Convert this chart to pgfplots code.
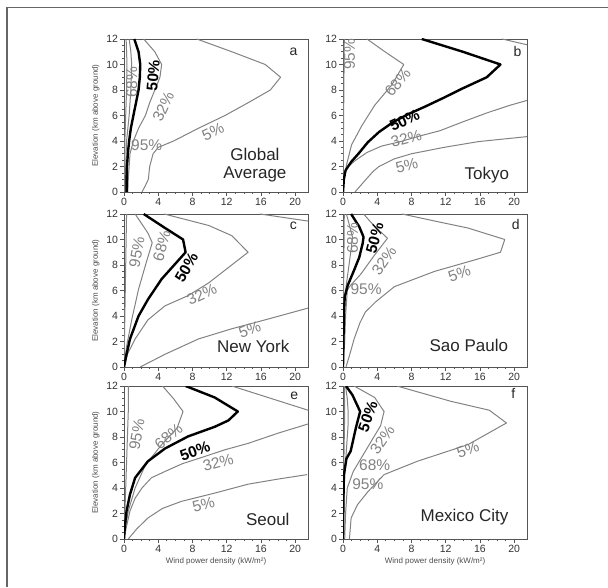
\documentclass[border=0pt]{standalone}
\usepackage{fontspec}
\setmainfont{Liberation Sans}
\usepackage{pgfplots}
\pgfplotsset{compat=1.18}

\definecolor{lgray}{RGB}{130,130,130}
\definecolor{agray}{RGB}{85,85,85}

\tikzset{
  plab/.style={text=lgray, font=\fontsize{15.5}{15.5}\selectfont, inner sep=0pt},
  mlab/.style={text=black, font=\fontsize{15.5}{15.5}\selectfont\bfseries, inner sep=0pt},
  city/.style={text=black!85, font=\fontsize{17}{18.5}\selectfont, align=center, inner sep=0pt},
  letter/.style={text=black!85, font=\fontsize{14}{14}\selectfont, inner sep=0pt},
}
\pgfplotsset{
  panel/.style={
    width=184pt, height=153pt, scale only axis,
    anchor=south west,
    xmin=0, xmax=21.5, ymin=0, ymax=12,
    xtick={0,4,...,20}, ytick={0,2,...,12},
    minor x tick num=3, minor y tick num=3,
    tick align=outside, xtick pos=bottom, ytick pos=left,
    major tick length=4pt, minor tick length=2.2pt,
    axis line style={agray, line width=0.9pt},
    every tick/.style={agray, line width=0.6pt},
    tick label style={text=black!80, font=\fontsize{10.5}{11}\selectfont},
    /pgf/number format/assume math mode=true,
    xticklabel style={yshift=1.5pt},
    yticklabel style={xshift=1.5pt},
    label style={text=black!70, font=\fontsize{8}{8.5}\selectfont},
    xlabel style={yshift=2pt},
  },
  pline/.style={color=lgray, line width=1pt, mark=none, line join=round},
  mline/.style={black, line width=2.4pt, mark=none, line join=round},
}

\begin{document}
\begin{tikzpicture}[x=1pt,y=1pt]
\path[use as bounding box] (0,0) rectangle (608,587);
\draw[color=black!60, line width=1.4pt] (7,0) -- (7,579.7) -- (608,579.7);

% ---- a: Global Average
\begin{axis}[panel, at={(124pt,395pt)}, ylabel={Elevation (km above ground)}]
\addplot[pline] coordinates {(0.05,0) (0.1,4) (0.2,6) (0.3,8) (0.35,10) (0.25,12)};
\addplot[pline] coordinates {(0.15,0) (0.2,2) (0.3,4) (0.6,6) (0.8,8) (0.9,10) (0.8,11) (0.6,12)};
\addplot[pline] coordinates {(0.45,0) (0.5,1) (0.6,2) (0.7,3) (1.1,4) (1.7,5) (2.5,6) (3.0,7) (3.6,8) (4.2,9) (4.4,10) (3.6,11) (2.3,12)};
\addplot[pline] coordinates {(2.1,0) (2.5,0.5) (2.85,1) (3.0,2) (3.4,3) (4.0,3.5) (5.8,4) (8.7,5) (11.8,6) (14.5,7) (17.1,8) (18.3,9) (16.5,10) (12.6,11) (8.5,12)};
\addplot[mline] coordinates {(0.3,0) (0.3,1) (0.35,2) (0.45,3) (0.6,4) (0.8,5) (1.1,6) (1.4,7) (1.7,8) (1.85,9) (1.9,10) (1.7,11) (1.2,12)};
\node[plab, rotate=90] at (axis cs:0.9,8.6) {68\%};
\node[mlab, rotate=85] at (axis cs:3.4,9.15) {50\%};
\node[plab, rotate=65] at (axis cs:4.6,6.7) {32\%};
\node[plab, rotate=25] at (axis cs:10.4,4.7) {5\%};
\node[plab] at (axis cs:2.65,3.65) {95\%};
\node[letter] at (axis cs:19.8,11.0) {a};
\node[city] at (axis cs:15.3,2.1) {Global\\Average};
\end{axis}

% ---- b: Tokyo
\begin{axis}[panel, at={(343pt,395pt)}]
\addplot[pline] coordinates {(0,0) (0.05,4) (0.1,8) (0.15,12)};
\addplot[pline] coordinates {(0,0) (0.1,0.8) (0.4,2.1) (1.0,3.7) (2.2,5.2) (3.7,6.8) (5.7,8.4) (7.1,10.0) (4.9,11.0) (2.8,12)};
\addplot[pline] coordinates {(0,0) (0.1,1) (0.3,1.7) (0.6,2.0) (1.5,2.5) (2.8,3.1) (4.5,3.6) (6.7,3.95) (9,4.4) (11.3,4.8) (14,5.5) (16.8,6.2) (19.5,6.8) (21.6,7.2) (30,9) (25,11) (18.6,12)};
\addplot[pline] coordinates {(1.4,0) (2.7,1) (3.5,1.6) (4.2,2.0) (6,2.6) (8,3.0) (11.8,3.5) (15.8,3.95) (21.6,4.35)};
\addplot[mline] coordinates {(0,0) (0.1,1) (0.3,1.7) (1.0,2.4) (1.8,3) (2.9,3.9) (4.2,4.7) (5.9,5.5) (7.6,6.1) (9.6,6.7) (11.8,7.4) (13.9,8.1) (16.8,9.0) (18.4,10.0) (14.0,11.0) (9.2,12.0)};
\node[plab, rotate=90] at (axis cs:0.75,10.8) {95\%};
\node[plab, rotate=50] at (axis cs:6.4,8.6) {68\%};
\node[mlab, rotate=25] at (axis cs:7.2,5.6) {50\%};
\node[plab, rotate=15] at (axis cs:7.4,4.2) {32\%};
\node[plab, rotate=15] at (axis cs:7.45,2.1) {5\%};
\node[letter] at (axis cs:20.4,11.0) {b};
\node[city] at (axis cs:16.8,1.3) {Tokyo};
\end{axis}

% ---- c: New York
\begin{axis}[panel, at={(124pt,220pt)}, ylabel={Elevation (km above ground)}]
\addplot[pline] coordinates {(0,0) (0.1,4) (0.2,8) (0.3,12)};
\addplot[pline] coordinates {(0,0) (0.3,1.6) (0.9,3.7) (1.7,6.1) (2.6,8.2) (3.3,9.75) (2.8,10.5) (1.3,12)};
\addplot[pline] coordinates {(0,0) (0.4,1) (1.3,2.2) (2.8,3.7) (4.8,4.8) (7.5,5.6) (9.9,6.6) (12.2,7.8) (14.5,9.0) (12.6,10.3) (9.9,11.1) (4.7,12)};
\addplot[pline] coordinates {(1.9,0) (4.8,1.0) (8.7,2.2) (12.6,3.0) (16.5,3.7) (21.4,4.6) (30,7) (26,11) (15.9,12)};
\addplot[mline] coordinates {(0,0) (0.3,1) (0.7,2.2) (1.7,4.0) (2.8,5.3) (4.4,6.9) (6.0,8.1) (7.2,9.0) (6.9,10.0) (4.8,10.9) (2.3,12)};
\node[plab, rotate=80] at (axis cs:1.5,9.0) {95\%};
\node[plab, rotate=75] at (axis cs:4.4,9.5) {68\%};
\node[mlab, rotate=60] at (axis cs:7.3,7.8) {50\%};
\node[plab, rotate=25] at (axis cs:9.1,5.7) {32\%};
\node[plab, rotate=20] at (axis cs:14.7,2.95) {5\%};
\node[letter] at (axis cs:19.8,11.1) {c};
\node[city] at (axis cs:15.1,1.65) {New York};
\end{axis}

% ---- d: Sao Paulo
\begin{axis}[panel, at={(343pt,220pt)}]
\addplot[pline] coordinates {(0,0) (0.05,4) (0.1,8) (0.15,12)};
\addplot[pline] coordinates {(0,0) (0.05,3) (0.15,5) (0.4,6.5) (0.7,8) (1.0,9.5) (1.1,10.2) (0.8,11) (0.4,12)};
\addplot[pline] coordinates {(0,0) (0.2,2) (0.3,4) (0.5,6) (0.75,6.3) (2.1,7.3) (3.6,8.7) (5.2,10.1) (3.6,11.1) (2.4,12)};
\addplot[pline] coordinates {(0.35,0) (0.8,1) (1.3,2.2) (2.0,3.5) (2.6,4.3) (3.8,5.1) (6.0,6.3) (10.7,7.5) (15.4,8.4) (18.4,9.0) (18.9,10.0) (14.6,10.9) (10.7,11.45) (6.9,12)};
\addplot[mline] coordinates {(0,0) (0.05,2) (0.1,4) (0.2,5.5) (0.55,6.4) (1.3,7.6) (1.9,8.6) (2.3,9.7) (2.4,10.2) (1.9,11.0) (0.95,12)};
\node[plab, rotate=90] at (axis cs:1.1,10.1) {68\%};
\node[mlab, rotate=75] at (axis cs:3.7,10.1) {50\%};
\node[plab, rotate=55] at (axis cs:4.8,8.3) {32\%};
\node[plab, rotate=20] at (axis cs:13.6,7.3) {5\%};
\node[plab] at (axis cs:2.7,6.1) {95\%};
\node[letter] at (axis cs:20.2,11.2) {d};
\node[city] at (axis cs:14.7,1.7) {Sao Paulo};
\end{axis}

% ---- e: Seoul
\begin{axis}[panel, at={(124pt,48pt)}, ylabel={Elevation (km above ground)}, xlabel={Wind power density (kW/m²)}]
\addplot[pline] coordinates {(0,0) (0.1,2) (0.2,4) (0.3,6) (0.4,8) (0.5,10) (0.5,12)};
\addplot[pline] coordinates {(0,0) (0.2,1) (0.5,2.2) (1.3,4.0) (2.5,5.8) (4.4,7.4) (6.2,8.7) (6.9,10.0) (5.8,11) (4.5,12)};
\addplot[pline] coordinates {(0,0) (0.3,1) (0.7,2.2) (1.3,3.2) (2.1,4.0) (3.2,4.8) (4.8,5.3) (6.8,5.9) (9.1,6.4) (11.8,7.0) (14.5,7.5) (18,8.3) (21.4,9.0) (26,9.2) (24,9.57) (12.6,12)};
\addplot[pline] coordinates {(0.5,0) (1.5,0.8) (2.8,1.65) (4.5,2.4) (6.7,2.95) (10.6,3.6) (14.5,4.3) (18,4.7) (21.4,5.05)};
\addplot[mline] coordinates {(0,0) (0.1,1) (0.3,2.2) (0.7,3.5) (1.3,4.8) (2.8,6.1) (4.8,7.1) (7.5,8.05) (10.6,8.8) (12.2,9.3) (13.3,10.0) (10.6,11.1) (7.2,12)};
\node[plab, rotate=80] at (axis cs:1.5,8.2) {95\%};
\node[plab, rotate=40] at (axis cs:5.2,8.05) {68\%};
\node[mlab, rotate=20] at (axis cs:8.3,6.9) {50\%};
\node[plab, rotate=15] at (axis cs:11.0,6.0) {32\%};
\node[plab, rotate=15] at (axis cs:9.3,2.7) {5\%};
\node[letter] at (axis cs:19.9,11.2) {e};
\node[city] at (axis cs:16.8,1.55) {Seoul};
\end{axis}

% ---- f: Mexico City
\begin{axis}[panel, at={(343pt,48pt)}, xlabel={Wind power density (kW/m²)}]
\addplot[pline] coordinates {(0,0) (0.05,4) (0.15,8) (0.2,10) (0.15,12)};
\addplot[pline] coordinates {(0,0) (0.1,3) (0.2,5) (0.4,7) (0.6,9) (0.6,10) (0.5,11) (0.3,12)};
\addplot[pline] coordinates {(0.2,0) (0.3,2) (0.5,4) (1.2,5.3) (2.8,7.1) (4.4,8.9) (4.8,10.0) (3.7,11.1) (1.3,12)};
\addplot[pline] coordinates {(0.75,0) (0.95,1.65) (1.7,2.7) (2.9,3.7) (4.8,5.05) (8.7,6.1) (14.6,7.4) (19.1,9.1) (17.1,10.1) (12.6,10.8) (6.3,12)};
\addplot[mline] coordinates {(0,0) (0.05,3) (0.1,5) (0.4,6.3) (0.9,6.9) (1.5,8.7) (2.0,10.0) (1.1,11.3) (0.35,12)};
\node[mlab, rotate=70] at (axis cs:2.9,9.6) {50\%};
\node[plab, rotate=55] at (axis cs:4.6,7.8) {32\%};
\node[plab] at (axis cs:3.7,5.8) {68\%};
\node[plab] at (axis cs:2.9,4.3) {95\%};
\node[plab, rotate=20] at (axis cs:14.6,7.0) {5\%};
\node[letter] at (axis cs:19.9,11.4) {f};
\node[city] at (axis cs:14.2,1.7) {Mexico City};
\end{axis}
\end{tikzpicture}
\end{document}
